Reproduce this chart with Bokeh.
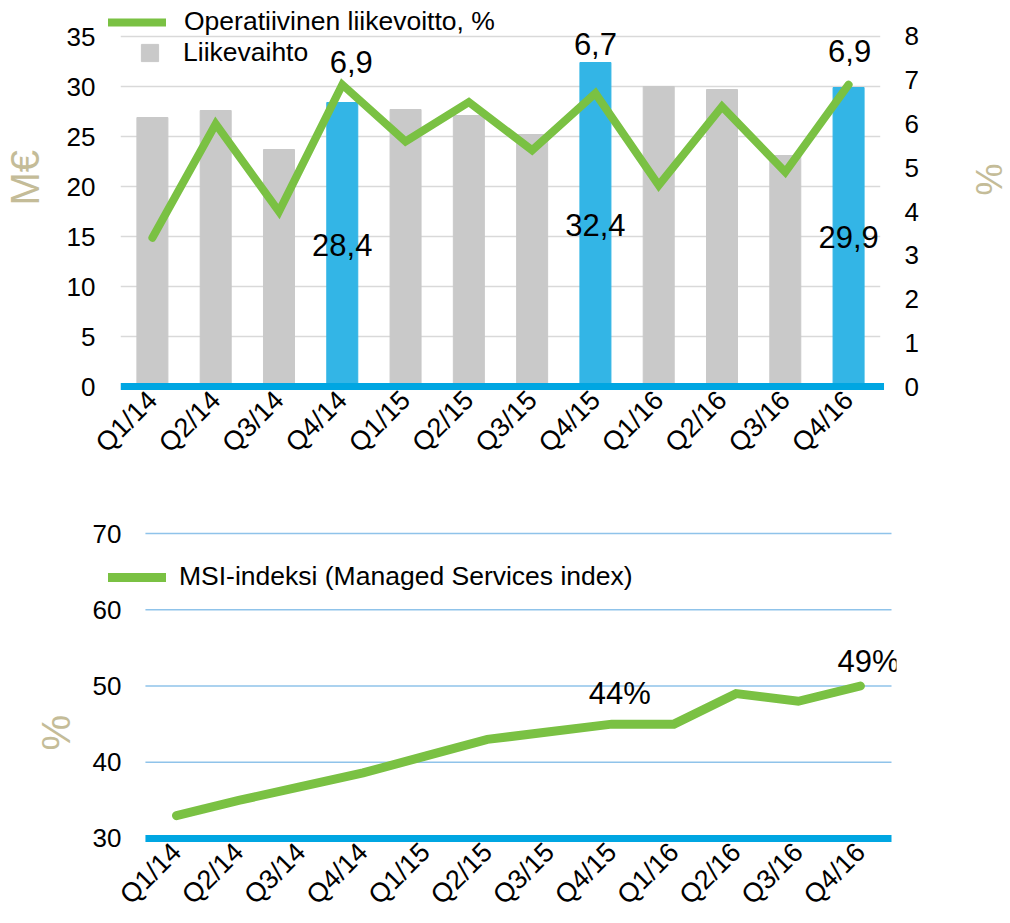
from bokeh.plotting import figure
from bokeh.models import (Range1d, LinearAxis, Legend, LegendItem,
                          ColumnDataSource, FixedTicker, Title)
from bokeh.layouts import column
from bokeh.embed import file_html
from bokeh.resources import INLINE
from bokeh.core.properties import value
import math

# ---------------- data ----------------
quarters = ["Q1/14", "Q2/14", "Q3/14", "Q4/14", "Q1/15", "Q2/15",
            "Q3/15", "Q4/15", "Q1/16", "Q2/16", "Q3/16", "Q4/16"]
revenue = [26.9, 27.6, 23.7, 28.4, 27.7, 27.1, 25.2, 32.4, 30.0, 29.7, 23.1, 29.9]   # M€
op_margin = [3.4, 6.0, 4.0, 6.9, 5.6, 6.5, 5.4, 6.7, 4.6, 6.4, 4.9, 6.9]            # %
msi_index = [33, 35, 36.8, 38.6, 40.8, 43, 44, 45, 45, 49, 48, 50]                  # %
labelled_quarters = ["Q4/14", "Q4/15", "Q4/16"]
msi_label_quarters = ["Q4/15", "Q4/16"]
msi_label_texts = ["44%", "49%"]

left_ticks = [0, 5, 10, 15, 20, 25, 30, 35]
right_ticks = [0, 1, 2, 3, 4, 5, 6, 7, 8]
msi_ticks = [30, 40, 50, 60, 70]

# ---------------- style ----------------
FONT = "Liberation Sans"
GREEN = "#7ac143"
GRAY = "#c9c9c9"
BLUE = "#33b5e6"
AXIS_BLUE = "#00a6e2"
TAN = "#c4bc98"
TICK_SIZE = "26px"
XTICK_SIZE = "27px"
LEG_SIZE = "26.5px"
DATA_SIZE = "31px"
W = 1010

def fmt(v):
    return f"{v:.1f}".replace(".", ",")

xs = list(range(len(quarters)))
x_over = {i: q for i, q in zip(xs, quarters)}
n = len(quarters)

def style_num_axis(ax):
    ax.axis_line_color = None
    ax.major_tick_line_color = None
    ax.minor_tick_line_color = None
    ax.major_tick_out = 0
    ax.major_tick_in = 0
    ax.major_label_text_font = FONT
    ax.major_label_text_font_size = TICK_SIZE
    ax.major_label_text_color = "#000000"

def style_x_axis(ax):
    ax.ticker = FixedTicker(ticks=xs)
    ax.major_label_overrides = x_over
    ax.axis_line_color = None
    ax.major_tick_line_color = None
    ax.minor_tick_line_color = None
    ax.major_tick_out = 0
    ax.major_tick_in = 0
    ax.major_label_orientation = math.pi / 4
    ax.major_label_text_font = FONT
    ax.major_label_text_font_size = XTICK_SIZE
    ax.major_label_text_color = "#000000"
    ax.major_label_standoff = 3

def legend(items, loc, gw, gh, standoff):
    return Legend(items=items, location=loc, glyph_width=gw, glyph_height=gh,
                  label_standoff=standoff, padding=0, margin=0, spacing=0,
                  border_line_color=None, background_fill_alpha=0,
                  label_text_font=FONT, label_text_font_size=LEG_SIZE,
                  label_text_color="#000000")

def side_title(text, size, offset):
    return Title(text=text, align="left", offset=offset, standoff=0,
                 text_font=FONT, text_font_size=size, text_font_style="normal",
                 text_color=TAN)

def spacer(size):
    # empty title used only as a gap between an axis and its title
    return Title(text=" ", standoff=0, text_font=FONT, text_font_size=size)

# ================= top chart =================
top = figure(x_range=Range1d(-0.9624, 11.7572), y_range=Range1d(-0.6, 38.2),
             width=W, height=480, output_backend="svg", toolbar_location=None,
             min_border_left=90, min_border_right=114,
             min_border_top=4, min_border_bottom=88)
top.extra_y_ranges = {"pct": Range1d(-0.1371, 8.7314)}
top.outline_line_color = None
top.grid.visible = False

# gridlines
top.segment(x0=[-0.5] * (len(left_ticks) - 1), x1=[n - 0.5] * (len(left_ticks) - 1),
            y0=left_ticks[1:], y1=left_ticks[1:], line_color="#d9d9d9", line_width=1.5)

bar_colors = [BLUE if q.startswith("Q4") else GRAY for q in quarters]
bar_src = ColumnDataSource(dict(x=xs, v=revenue, c=bar_colors))
top.vbar(x="x", top="v", width=0.49, color="c", source=bar_src)

# zero line
top.segment(x0=[-0.5], x1=[n - 0.44], y0=[0], y1=[0], line_color=AXIS_BLUE,
            line_width=7, line_cap="butt")

line_src = ColumnDataSource(dict(x=xs, v=op_margin))
ln = top.line(x="x", y="v", source=line_src, y_range_name="pct",
              line_color=GREEN, line_width=8, line_join="miter", line_cap="round")

# renderer used only for the square legend swatch (its point lies outside the view)
sq = top.scatter(x=[0], y=[-100], marker="square", size=17, color=GRAY)

ya = top.yaxis[0]
ya.ticker = FixedTicker(ticks=left_ticks)
ra = LinearAxis(y_range_name="pct", ticker=FixedTicker(ticks=right_ticks))
top.add_layout(ra, "right")
style_num_axis(ya)
style_num_axis(ra)
ya.major_label_standoff = -4
ra.major_label_standoff = 8
style_x_axis(top.xaxis[0])
top.add_layout(spacer("13px"), "left")
top.add_layout(side_title("M€", "40px", 187), "left")
top.add_layout(spacer("40px"), "right")
top.add_layout(side_title("%", "36px", 159), "right")

# data labels
lift = [23, 49, 34]
shift = [9, 0, 1]
for q, l, s in zip(labelled_quarters, lift, shift):
    i = quarters.index(q)
    top.text(x=[i], y=[op_margin[i]], text=[fmt(op_margin[i])],
             y_range_name="pct", text_font=value(FONT), text_font_size=DATA_SIZE,
             text_align="center", text_baseline="middle", x_offset=s, y_offset=-l,
             text_color="#000000")
    top.text(x=[i], y=[revenue[i] / 2], text=[fmt(revenue[i])],
             text_font=value(FONT), text_font_size=DATA_SIZE,
             text_align="center", text_baseline="middle", text_color="#000000")

top.add_layout(legend([LegendItem(label="Operatiivinen liikevoitto, %", renderers=[ln])],
                      (17, 355), 58, 30, 18))
top.add_layout(legend([LegendItem(label="Liikevaihto", renderers=[sq])],
                      (37, 318), 43, 43, 12))

# ================= bottom chart =================
bot = figure(x_range=Range1d(-1.3675, 11.5803), y_range=Range1d(29.213, 70.656),
             width=W, height=443, output_backend="svg", toolbar_location=None,
             min_border_left=90, min_border_right=114,
             min_border_top=48, min_border_bottom=79)
bot.outline_line_color = None
bot.grid.visible = False

bot.segment(x0=[-0.5] * (len(msi_ticks) - 1), x1=[n - 0.5] * (len(msi_ticks) - 1),
            y0=msi_ticks[1:], y1=msi_ticks[1:], line_color="#8fc3ea", line_width=1.6)
bot.segment(x0=[-0.5], x1=[n - 0.5], y0=[msi_ticks[0]], y1=[msi_ticks[0]],
            line_color=AXIS_BLUE, line_width=7, line_cap="butt")

msi_src = ColumnDataSource(dict(x=xs, v=msi_index))
mln = bot.line(x="x", y="v", source=msi_src, line_color=GREEN, line_width=9,
               line_join="miter", line_cap="round")

by = bot.yaxis[0]
by.ticker = FixedTicker(ticks=msi_ticks)
style_num_axis(by)
by.major_label_standoff = -30
style_x_axis(bot.xaxis[0])
bot.add_layout(spacer("9px"), "left")
bot.add_layout(side_title("%", "40px", 94), "left")

msi_lift = [31, 25]
for q, t, l in zip(msi_label_quarters, msi_label_texts, msi_lift):
    i = quarters.index(q)
    bot.text(x=[i], y=[msi_index[i]], text=[t], text_font=value(FONT),
             text_font_size=DATA_SIZE, text_align="center", text_baseline="middle",
             x_offset=8, y_offset=-l, text_color="#000000")

bot.add_layout(legend([LegendItem(label="MSI-indeksi (Managed Services index)", renderers=[mln])],
                      (17, 252), 58, 30, 13))

layout = column(top, bot, spacing=0)
open("out.html", "w").write(file_html(layout, INLINE))
